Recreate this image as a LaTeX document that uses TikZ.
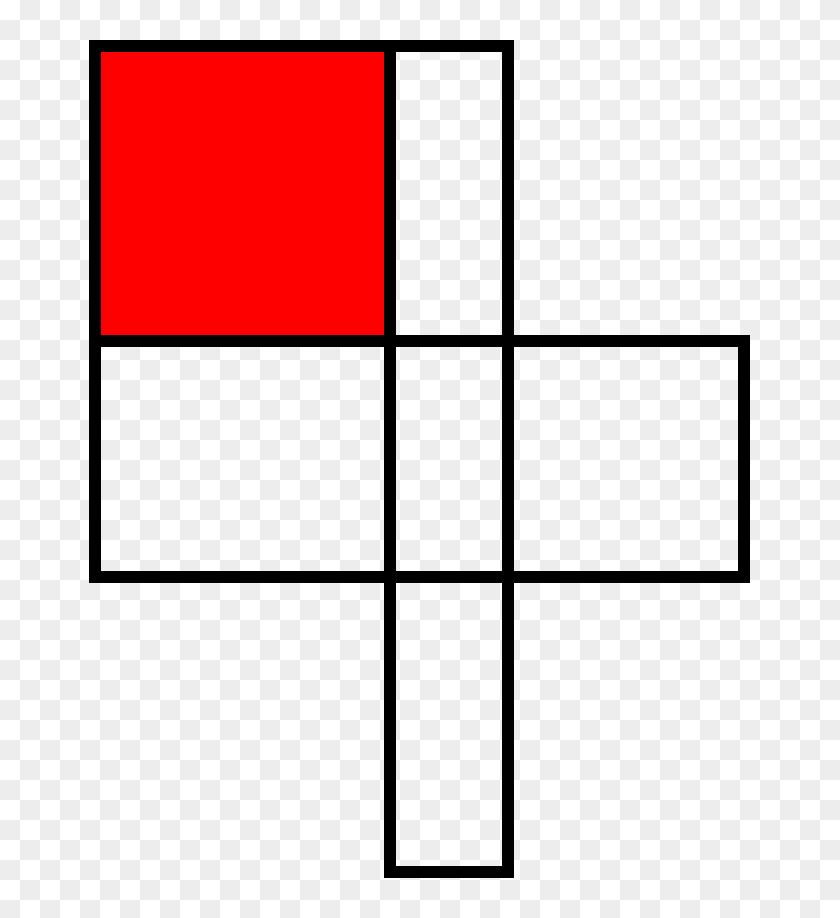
\documentclass[tikz,border=0pt]{standalone}
\begin{document}
\begin{tikzpicture}[x=1pt,y=-1pt,
	cellline/.style={line width=11.5pt, draw=black},
	checkgray/.style={fill=black!7}]
			\useasboundingbox (0,0) rectangle (840,918);
			\fill[white] (0,0) rectangle (840,918);
			% checkerboard background
			\foreach \j in {0,2,...,44}
				\foreach \i in {1,3,...,41}
					\fill[checkgray] (20*\i,20*\j) rectangle ++(20,20);
			\foreach \j in {1,3,...,45}
				\foreach \i in {0,2,...,40}
					\fill[checkgray] (20*\i,20*\j) rectangle ++(20,20);
			\fill[red] (95,46) rectangle (390,341);
			\foreach \xa/\ya/\xb/\yb in {95/46/390/341, 390/46/508/341, 95/341/390/577, 390/341/508/577, 508/341/744/577, 390/577/508/872}
				\draw[cellline] (\xa,\ya) rectangle (\xb,\yb);
		\end{tikzpicture}
\end{document}
